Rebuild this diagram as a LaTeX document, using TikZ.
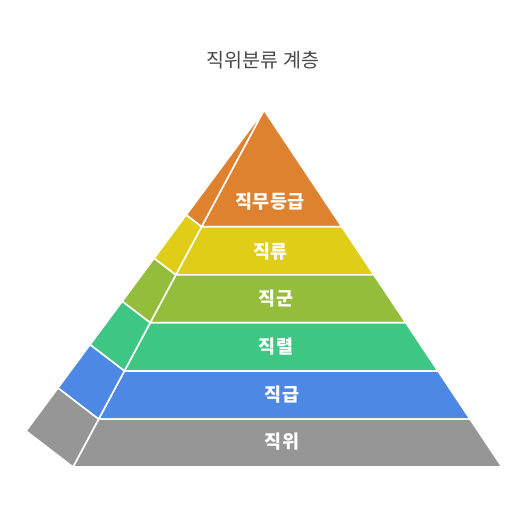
\documentclass[tikz,border=0pt]{standalone}
\usepackage{fontspec}
\usepackage{xcolor}
\usetikzlibrary{calc}
\newfontfamily\krfont{Noto Sans CJK KR}
\definecolor{tierorange}{RGB}{223,130,48}
\definecolor{tieryellow}{RGB}{224,205,24}
\definecolor{tierolive}{RGB}{147,189,58}
\definecolor{tiergreen}{RGB}{62,198,131}
\definecolor{tierblue}{RGB}{77,136,229}
\definecolor{tiergray}{RGB}{150,150,150}
\definecolor{titlegray}{RGB}{72,72,72}
\tikzset{
    % Define standard node styles
    bandfill/.style={
        draw=white, line width=1.6pt, line join=round
    },
    bandlabel/.style={
        text=white, font=\krfont\bfseries\fontsize{18.5}{22}\selectfont,
        inner sep=0pt
    },
    titletext/.style={
        text=titlegray, font=\krfont\fontsize{19.5}{23}\selectfont,
        inner sep=0pt
    }
}
\begin{document}
\begin{tikzpicture}[x=1pt,y=-1pt]
\useasboundingbox (0,0) rectangle (528,516);

\node[titletext] (title) at (263,60) {직위분류 계층};

% corners of the pyramid
\coordinate (apex) at (264,110);
\coordinate (frontleft) at (73,467);
\coordinate (frontright) at (502,467);
\coordinate (sideleft) at (26,431);

% front face bands
\fill[tierorange, bandfill] (apex) -- ($(apex)!0.327!(frontright)$) -- ($(apex)!0.327!(frontleft)$) -- cycle;
\fill[tieryellow, bandfill] ($(apex)!0.327!(frontleft)$) -- ($(apex)!0.327!(frontright)$) -- ($(apex)!0.462!(frontright)$) -- ($(apex)!0.462!(frontleft)$) -- cycle;
\fill[tierolive, bandfill] ($(apex)!0.462!(frontleft)$) -- ($(apex)!0.462!(frontright)$) -- ($(apex)!0.596!(frontright)$) -- ($(apex)!0.596!(frontleft)$) -- cycle;
\fill[tiergreen, bandfill] ($(apex)!0.596!(frontleft)$) -- ($(apex)!0.596!(frontright)$) -- ($(apex)!0.731!(frontright)$) -- ($(apex)!0.731!(frontleft)$) -- cycle;
\fill[tierblue, bandfill] ($(apex)!0.731!(frontleft)$) -- ($(apex)!0.731!(frontright)$) -- ($(apex)!0.866!(frontright)$) -- ($(apex)!0.866!(frontleft)$) -- cycle;
\fill[tiergray, bandfill] ($(apex)!0.866!(frontleft)$) -- ($(apex)!0.866!(frontright)$) -- (frontright) -- (frontleft) -- cycle;

% side face bands
\fill[tierorange, bandfill] (apex) -- ($(apex)!0.327!(frontleft)$) -- ($(apex)!0.327!(sideleft)$) -- cycle;
\fill[tieryellow, bandfill] ($(apex)!0.327!(sideleft)$) -- ($(apex)!0.327!(frontleft)$) -- ($(apex)!0.462!(frontleft)$) -- ($(apex)!0.462!(sideleft)$) -- cycle;
\fill[tierolive, bandfill] ($(apex)!0.462!(sideleft)$) -- ($(apex)!0.462!(frontleft)$) -- ($(apex)!0.596!(frontleft)$) -- ($(apex)!0.596!(sideleft)$) -- cycle;
\fill[tiergreen, bandfill] ($(apex)!0.596!(sideleft)$) -- ($(apex)!0.596!(frontleft)$) -- ($(apex)!0.731!(frontleft)$) -- ($(apex)!0.731!(sideleft)$) -- cycle;
\fill[tierblue, bandfill] ($(apex)!0.731!(sideleft)$) -- ($(apex)!0.731!(frontleft)$) -- ($(apex)!0.866!(frontleft)$) -- ($(apex)!0.866!(sideleft)$) -- cycle;
\fill[tiergray, bandfill] ($(apex)!0.866!(sideleft)$) -- ($(apex)!0.866!(frontleft)$) -- (frontleft) -- (sideleft) -- cycle;

% band labels
\node[bandlabel] (grade) at (270,202) {직무등급};
\node[bandlabel] (class) at (270.5,252) {직류};
\node[bandlabel] (group) at (276,299) {직군};
\node[bandlabel] (series) at (276,347) {직렬};
\node[bandlabel] (rank) at (282,395) {직급};
\node[bandlabel] (position) at (282,442) {직위};

\end{tikzpicture}
\end{document}
